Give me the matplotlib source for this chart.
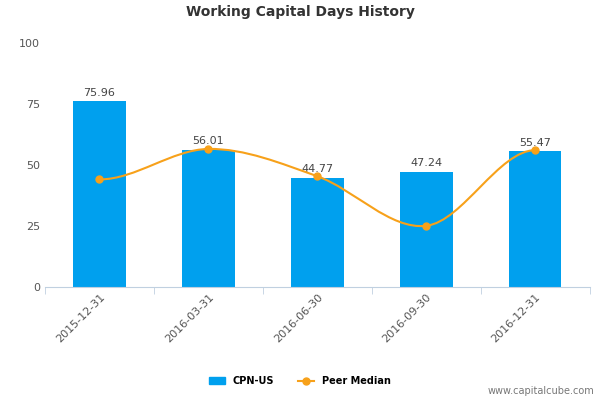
import matplotlib
matplotlib.use('Agg')
import matplotlib.pyplot as plt
from matplotlib.path import Path
from matplotlib.patches import PathPatch
import numpy as np

dates = ['2015-12-31', '2016-03-31', '2016-06-30', '2016-09-30', '2016-12-31']
company = [75.96, 56.01, 44.77, 47.24, 55.47]
peer = [44.0, 56.5, 45.3, 25.0, 56.0]

fig = plt.figure(figsize=(6, 4), dpi=100)
ax = fig.add_axes([0.075, 0.283, 0.908, 0.61])

x = np.arange(len(dates))
ax.bar(x, company, width=0.48, color='#00a0ee', zorder=2)
for xi, v in zip(x, company):
    ax.text(xi, v + 1.5, f'{v:.2f}', ha='center', va='bottom', fontsize=8, color='#444444')

# smooth curve through peer points (cubic bezier, catmull-rom style tangents)
px, py = x.astype(float), np.array(peer)
verts, codes = [(px[0], py[0])], [Path.MOVETO]
for i in range(len(px) - 1):
    m0 = (py[min(i + 1, len(py) - 1)] - py[max(i - 1, 0)]) / 2 if 0 < i else 0
    m1 = (py[min(i + 2, len(py) - 1)] - py[i]) / 2 if i + 1 < len(px) - 1 else 0
    verts += [(px[i] + 1/3, py[i] + m0/3), (px[i+1] - 1/3, py[i+1] - m1/3), (px[i+1], py[i+1])]
    codes += [Path.CURVE4] * 3
ax.add_patch(PathPatch(Path(verts, codes), fill=False, edgecolor='#f7a11a', lw=1.5, zorder=3))
ax.plot(px, py, 'o', color='#f7a11a', ms=5, zorder=4)

ax.set_xlim(-0.5, 4.5)
ax.set_ylim(0, 100)
ax.set_yticks([0, 25, 50, 75, 100])
ax.tick_params(axis='y', length=0, labelsize=8, colors='#555555')
ax.set_xticks(x)
ax.set_xticklabels(dates, rotation=45, ha='right', rotation_mode='anchor', fontsize=8, color='#555555')
ax.tick_params(axis='x', length=0)
ax.set_xticks(np.arange(-0.5, 5, 1), minor=True)
ax.tick_params(axis='x', which='minor', length=5, color='#c0d0e0')
for s in ['top', 'right', 'left']:
    ax.spines[s].set_visible(False)
ax.spines['bottom'].set_color('#c0d0e0')

fig.text(0.5, 0.96, 'Working Capital Days History', ha='center', fontsize=10, fontweight='bold', color='#333333')

from matplotlib.patches import Patch
from matplotlib.lines import Line2D
handles = [Patch(color='#00a0ee', label='CPN-US'),
           Line2D([], [], color='#f7a11a', marker='o', ms=5, lw=1.5, label='Peer Median')]
fig.legend(handles=handles, loc='center', bbox_to_anchor=(0.5, 0.047), ncol=2, frameon=False,
           prop={'size': 7, 'weight': 'bold'}, handlelength=1.6, columnspacing=2.5)
fig.text(0.99, 0.015, 'www.capitalcube.com', ha='right', fontsize=7, color='#777777')

fig.savefig('out.png')
